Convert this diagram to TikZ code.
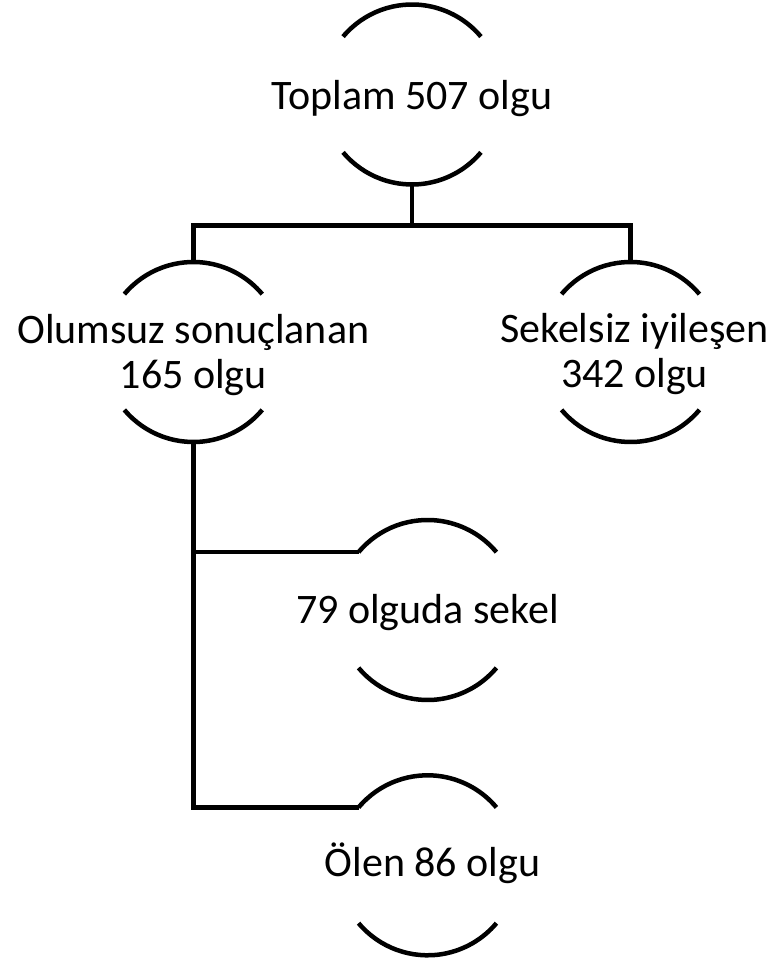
\documentclass[tikz,border=0pt]{standalone}
\usepackage{fontspec}
\setmainfont{Carlito}
\begin{document}
\begin{tikzpicture}[x=1pt,y=1pt,
  line width=4.5pt,
  lbl/.style={font=\fontsize{42}{45}\selectfont, inner sep=0pt, align=center, anchor=base}]
\useasboundingbox (0,0) rectangle (775,959);

% centres of the open circles
\coordinate (topC)   at (412,864.5);
\coordinate (leftC)  at (193.3,607);
\coordinate (rightC) at (630.5,607);
\coordinate (midC)   at (427.5,349);
\coordinate (botC)   at (427.5,93.7);

% upper and lower arcs of each open circle
\foreach \c in {topC,leftC,rightC,midC,botC} {
  \draw ([shift={(140:90pt)}]\c) arc[start angle=140,end angle=40,radius=90pt];
  \draw ([shift={(220:90pt)}]\c) arc[start angle=220,end angle=320,radius=90pt];
}

% labels (two-line labels sit on the baseline of their last line)
\node[lbl] (top)   at ([yshift=-15.5pt]topC) {Toplam 507 olgu};
\node[lbl] (left)  at ([yshift=-37pt]leftC) {Olumsuz sonuçlanan\\165 olgu};
\node[lbl] (right) at ([xshift=4pt,yshift=-36pt]rightC) {Sekelsiz iyileşen\\342 olgu};
\node[lbl] (mid)   at ([yshift=-13.3pt]midC) {79 olguda sekel};
\node[lbl] (bot)   at ([xshift=5pt,yshift=-11.4pt]botC) {Ölen 86 olgu};

% connector end points on the arcs
\coordinate (topS)   at ([yshift=-90pt]topC);
\coordinate (leftN)  at ([yshift=90pt]leftC);
\coordinate (leftS)  at ([yshift=-90pt]leftC);
\coordinate (rightN) at ([yshift=90pt]rightC);
\coordinate (midW)   at ([shift={(140:90pt)}]midC);
\coordinate (botW)   at ([shift={(140:90pt)}]botC);
\coordinate (bus)    at (412,733.5);

% connectors
\draw (topS) -- (bus);
\draw (leftN) |- (bus) -| (rightN);
\draw (leftS) |- (botW);
\draw (leftS |- midW) -- (midW);
\end{tikzpicture}
\end{document}
